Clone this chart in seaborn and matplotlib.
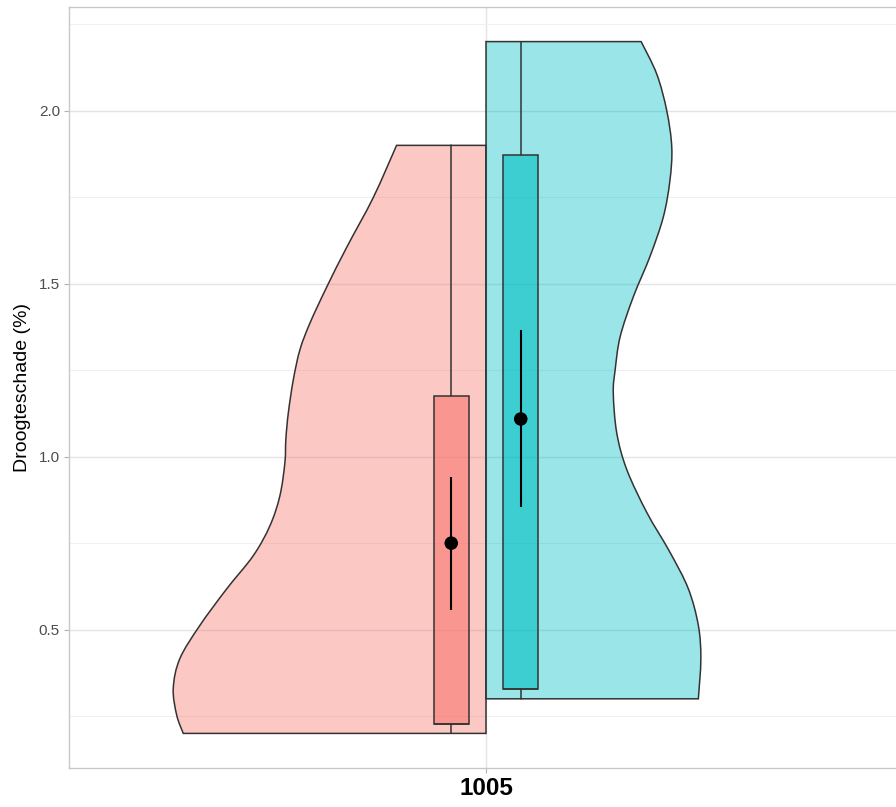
import matplotlib
matplotlib.use("Agg")
import matplotlib.pyplot as plt
from matplotlib.path import Path
from matplotlib.patches import PathPatch
from matplotlib.ticker import FixedLocator
import seaborn as sns

# ---- data -------------------------------------------------------------
category = "1005"
groups = ["links", "rechts"]

# violin outlines: y values and relative density (1.0 = widest point)
left_y = [1.90, 1.75, 1.606, 1.491, 1.386, 1.309, 1.223, 1.127, 1.050, 0.983,
          0.887, 0.800, 0.714, 0.618, 0.512, 0.416, 0.330, 0.253, 0.20]
left_density = [0.286, 0.360, 0.445, 0.509, 0.563, 0.595, 0.616, 0.632, 0.640,
                0.643, 0.659, 0.691, 0.744, 0.829, 0.915, 0.979, 1.000, 0.989,
                0.968]

right_y = [2.20, 2.106, 2.000, 1.894, 1.798, 1.693, 1.578, 1.462, 1.347, 1.251,
           1.184, 1.069, 0.963, 0.839, 0.724, 0.618, 0.512, 0.416, 0.30]
right_density = [0.496, 0.546, 0.578, 0.594, 0.588, 0.567, 0.524, 0.471, 0.429,
                 0.413, 0.407, 0.418, 0.450, 0.514, 0.588, 0.647, 0.679, 0.687,
                 0.679]

# box summaries (min, q1, median, q3, max)
box_min = [0.20, 0.30]
box_q1 = [0.227, 0.327]
box_med = [0.227, 0.327]
box_q3 = [1.175, 1.873]
box_max = [1.90, 2.20]

# mean with interval
mean_val = [0.750, 1.109]
mean_lo = [0.558, 0.855]
mean_hi = [0.942, 1.367]

yticks = [0.5, 1.0, 1.5, 2.0]
ytick_labels = ["0.5", "1.0", "1.5", "2.0"]

# ---- style ------------------------------------------------------------
sns.set_theme(style="whitegrid")
plt.rcParams["font.family"] = ["Liberation Sans", "DejaVu Sans"]

colors = ["#F8766D", "#00BFC4"]
edge = "#333333"

fig = plt.figure(figsize=(8.96, 8.07), dpi=100)
ax = fig.add_axes([69 / 896, 39 / 807, 834 / 896, 761 / 807])

half_width = 0.45
box_offset = 0.05
box_width = 0.051


def half_violin_path(xs, ys):
    """Closed path: centre line, flat ends, and a smooth Catmull-Rom
    curve through the outline points."""
    pts = list(zip(xs, ys))
    verts = [(0, ys[0]), pts[0]]
    codes = [Path.MOVETO, Path.LINETO]
    n = len(pts)
    for i in range(n - 1):
        p0 = pts[i - 1] if i > 0 else pts[i]
        p1 = pts[i]
        p2 = pts[i + 1]
        p3 = pts[i + 2] if i + 2 < n else pts[i + 1]
        c1 = (p1[0] + (p2[0] - p0[0]) / 6, p1[1] + (p2[1] - p0[1]) / 6)
        c2 = (p2[0] - (p3[0] - p1[0]) / 6, p2[1] - (p3[1] - p1[1]) / 6)
        verts += [c1, c2, p2]
        codes += [Path.CURVE4] * 3
    verts += [(0, ys[-1]), (0, ys[0])]
    codes += [Path.LINETO, Path.CLOSEPOLY]
    return Path(verts, codes)


# split violin halves
for side, ys, dens, col in [(-1, left_y, left_density, colors[0]),
                            (1, right_y, right_density, colors[1])]:
    xs = [side * half_width * d for d in dens]
    path = half_violin_path(xs, ys)
    ax.add_patch(PathPatch(path, facecolor=matplotlib.colors.to_rgba(col, 0.4),
                           edgecolor=edge, linewidth=1.1, zorder=2))

# boxes
stats = []
for i in range(2):
    stats.append(dict(whislo=box_min[i], q1=box_q1[i], med=box_med[i],
                      q3=box_q3[i], whishi=box_max[i], fliers=[]))
positions = [-box_offset, box_offset]
bp = ax.bxp(stats, positions=positions, widths=box_width, patch_artist=True,
            showcaps=False, showfliers=False, manage_ticks=False,
            boxprops=dict(edgecolor=edge, linewidth=1.1),
            whiskerprops=dict(color=edge, linewidth=1.1),
            medianprops=dict(color=edge, linewidth=1.1))
for patch, col in zip(bp["boxes"], colors):
    patch.set_facecolor(matplotlib.colors.to_rgba(col, 0.6))
    patch.set_zorder(3)
for art in bp["whiskers"] + bp["medians"]:
    art.set_zorder(3)

# means with intervals
ax.vlines(positions, mean_lo, mean_hi, color="black", linewidth=1.5, zorder=4)
sns.scatterplot(x=positions, y=mean_val, ax=ax, color="black", s=95,
                edgecolor="none", zorder=5, legend=False)

# ---- axes -------------------------------------------------------------
ax.set_xlim(-0.6, 0.6)
ax.set_ylim(0.1, 2.3)
ax.set_xticks([0])
ax.set_xticklabels([category], fontsize=17.5, fontweight="bold", color="black")
ax.yaxis.set_major_locator(FixedLocator(yticks))
ax.set_yticklabels(ytick_labels, fontsize=11, color="#4D4D4D")
ax.yaxis.set_minor_locator(FixedLocator([0.25, 0.75, 1.25, 1.75, 2.25]))
ax.set_ylabel("Droogteschade (%)", fontsize=14, color="black", labelpad=6)
ax.set_xlabel("")

ax.grid(True, which="major", color="#E4E4E4", linewidth=1.0, zorder=0)
ax.grid(True, which="minor", axis="y", color="#EFEFEF", linewidth=0.7, zorder=0)
ax.set_axisbelow(True)
ax.tick_params(axis="both", which="major", length=3.5, width=0.8,
               color="#B3B3B3", pad=3, left=True, bottom=True)
ax.tick_params(axis="y", which="minor", length=0)
for sp in ax.spines.values():
    sp.set_color("#C8C8C8")
    sp.set_linewidth(1.0)
ax.set_facecolor("white")

fig.savefig("out.png", dpi=100)
